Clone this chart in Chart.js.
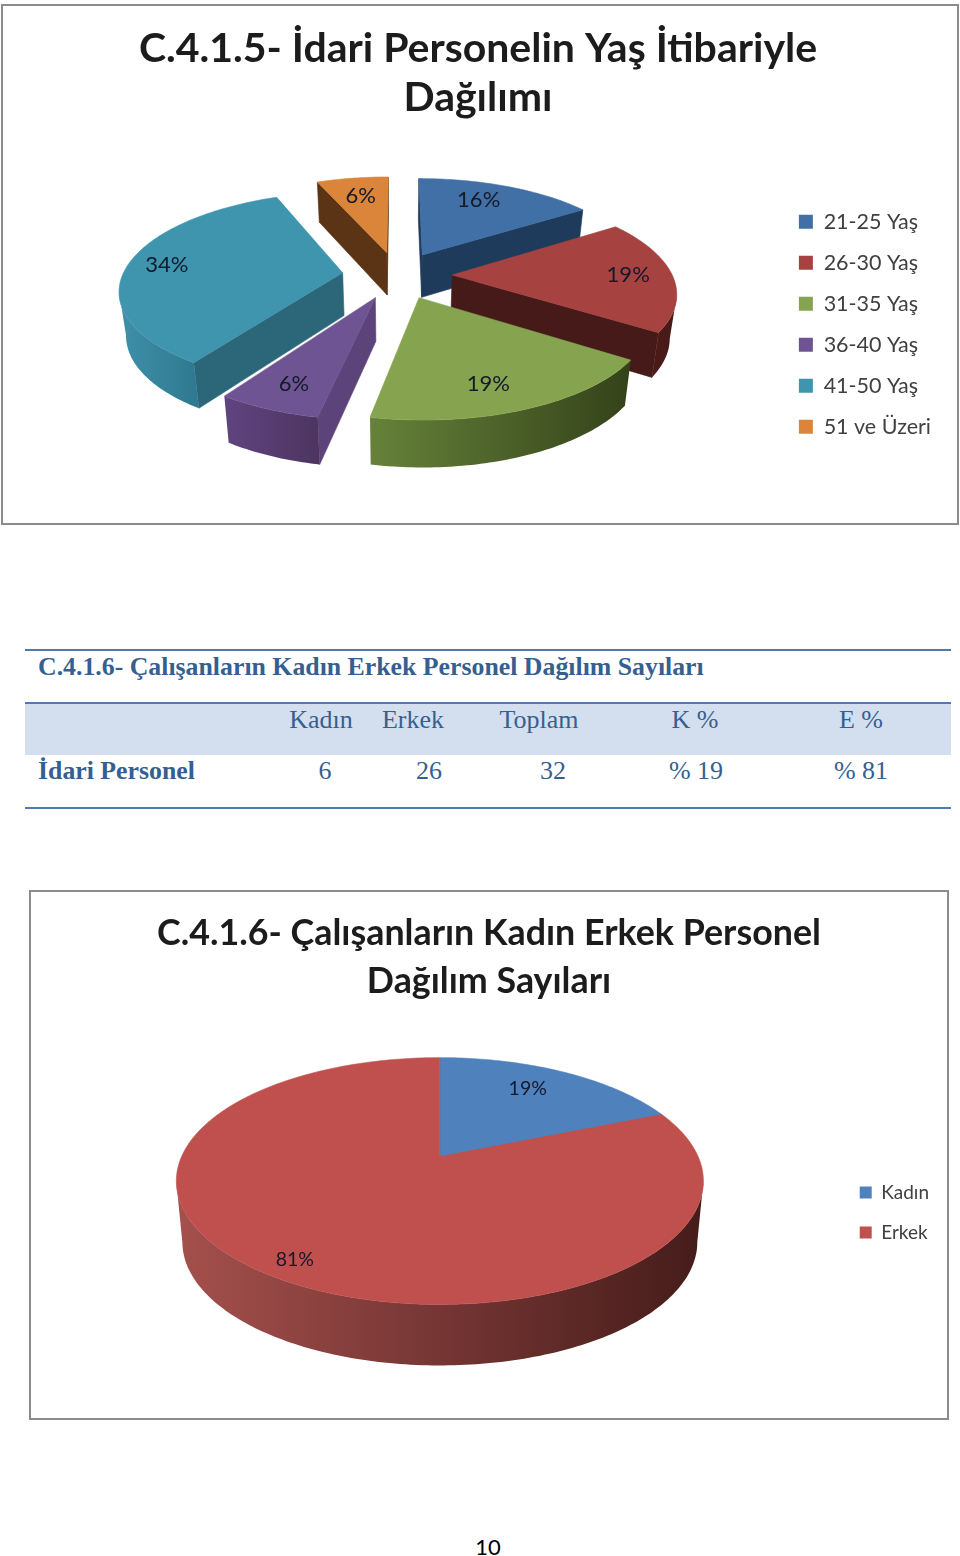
<!DOCTYPE html>
<html>
<head>
<meta charset="utf-8">
<title>C.4.1.5 - C.4.1.6</title>
<script src="https://cdn.jsdelivr.net/npm/chart.js@4"></script>
<style>
    html, body { margin: 0; padding: 0; background: #fff; width: 960px; height: 1556px; overflow: hidden; }
    .box { position: absolute; box-sizing: border-box; border: 2px solid #8c8c8c; background: #fff; }
    .box canvas { display: block; }
    .rule { position: absolute; left: 25px; width: 926px; height: 2px; background: #4f7cac; }
    .band { position: absolute; left: 25px; width: 926px; top: 704px; height: 51px; background: #d3dfee; }
    .cell { position: absolute; font-family: "Liberation Serif", serif; font-size: 26px; color: #365f91; white-space: nowrap; transform: translate(-50%, -50%); }
    .bold { font-weight: bold; font-size: 25.8px; transform: translate(0, -50%); }
    #pageNo { position: absolute; left: 488px; top: 1546px; transform: translate(-50%, -50%); font-family: Lato, sans-serif; font-size: 22px; color: #000; }
</style>
</head>
<body>
<div class="box" style="left:1px;top:4px;width:958px;height:521px"><canvas id="ageChart" width="954" height="517"></canvas></div>

<div class="rule" style="top:649px"></div>
<div class="band"></div>
<div class="rule" style="top:702px"></div>
<div class="rule" style="top:807px"></div>
<div id="tableText"></div>

<div class="box" style="left:29px;top:890px;width:920px;height:530px"><canvas id="genderChart" width="916" height="526"></canvas></div>
<div id="pageNo">10</div>

<script>
// chart 1 - age distribution
const ageTitle = ['C.4.1.5- İdari Personelin Yaş İtibariyle', 'Dağılımı'];
const ageLabels = ['21-25 Yaş', '26-30 Yaş', '31-35 Yaş', '36-40 Yaş', '41-50 Yaş', '51 ve Üzeri'];
const ageCounts = [5, 6, 6, 2, 11, 2];
const ageColors = ['#4070a5', '#a64340', '#86a44f', '#6e5492', '#3f94ae', '#da8539'];
const ageSideColors = ['#1f3b5c', '#451a18', '#36451c', '#5c4379', '#2c6679', '#5a3414'];
const ageWallLeft = ['#1f3b5c', '#4a1a18', '#66823a', '#5f4480', '#3f90aa', '#5a3414'];
const ageWallRight = ['#1f3b5c', '#451a18', '#344219', '#4d3560', '#2f7a90', '#5a3414'];

// chart 2 - women / men
const genderTitle = ['C.4.1.6- Çalışanların Kadın Erkek Personel', 'Dağılım Sayıları'];
const genderLabels = ['Kadın', 'Erkek'];
const genderCounts = [6, 26];
const genderColors = ['#4f81bd', '#c0504d'];
const genderSideColors = ['#2c4a6e', '#4a1e1c'];
const genderWallLeft = ['#2c4a6e', '#a5504d'];
const genderWallRight = ['#2c4a6e', '#451c1a'];

// table
const tableCaption = 'C.4.1.6- Çalışanların Kadın Erkek Personel Dağılım Sayıları';
const tableHeaders = ['Kadın', 'Erkek', 'Toplam', 'K %', 'E %'];
const tableRowName = 'İdari Personel';
const tableRow = ['6', '26', '32', '% 19', '% 81'];
const headerCenters = [321, 413, 539, 695, 861];
const rowCenters = [325, 429, 553, 696, 861];

function addCell(text, x, y, bold) {
    const el = document.createElement('div');
    el.className = bold ? 'cell bold' : 'cell';
    el.textContent = text;
    el.style.left = x + 'px';
    el.style.top = y + 'px';
    document.getElementById('tableText').appendChild(el);
}
addCell(tableCaption, 38, 667, true);
addCell(tableRowName, 38, 771, true);
tableHeaders.forEach((h, i) => addCell(h, headerCenters[i], 720));
tableRow.forEach((v, i) => addCell(v, rowCenters[i], 771));

// The library lays out the arcs (angles, radius, offset); this plugin only
// projects them onto a tilted disc with some perspective, like the Excel 3D pie.
const pie3d = {
    id: 'pie3d',
    beforeDatasetDraw(chart, args, opts) {
        const ctx = chart.ctx;
        const arcs = chart.getDatasetMeta(0).data;
        const total = chart.data.datasets[0].data.reduce((a, b) => a + b, 0);

        function makeProjection(arc) {
            const rx = arc.outerRadius;
            const ry = rx * opts.tilt;
            const cx = arc.x + opts.slide;
            const cy = arc.y + opts.lift;
            return {
                top(u, v) {
                    const w = 1 - opts.persp * v;
                    return [cx + rx * u / w, cy + ry * v / w];
                },
                bottom(u, v) {
                    const w = 1 - opts.persp * v;
                    return [cx + opts.bottomX * rx * u / w, cy + opts.drop + opts.bottomY * ry * v / w];
                }
            };
        }

        function poly(points) {
            ctx.beginPath();
            points.forEach((p, i) => (i ? ctx.lineTo(p[0], p[1]) : ctx.moveTo(p[0], p[1])));
            ctx.closePath();
        }

        const slices = arcs.map((arc, i) => {
            const mid = (arc.startAngle + arc.endAngle) / 2;
            const e = (arc.options.offset || 0) / arc.outerRadius;
            return { arc, i, mid, ox: e * Math.cos(mid), oy: e * Math.sin(mid) };
        });

        // back to front
        slices.sort((a, b) => Math.sin(a.mid) - Math.sin(b.mid));

        slices.forEach(s => {
            const arc = s.arc;
            const proj = makeProjection(arc);
            const outline = [[s.ox, s.oy]];
            const n = Math.max(2, Math.ceil((arc.endAngle - arc.startAngle) * 180 / Math.PI));
            for (let k = 0; k <= n; k++) {
                const a = arc.startAngle + (arc.endAngle - arc.startAngle) * k / n;
                outline.push([s.ox + Math.cos(a), s.oy + Math.sin(a)]);
            }
            const tops = outline.map(p => proj.top(p[0], p[1]));
            const bottoms = outline.map(p => proj.bottom(p[0], p[1]));

            // radial walls, only those facing the viewer
            ctx.fillStyle = opts.sideColors[s.i];
            ctx.strokeStyle = opts.sideColors[s.i];
            ctx.lineWidth = 0.6;
            [[0, 1], [outline.length - 1, 0]].forEach(e => {
                if (tops[e[1]][0] - tops[e[0]][0] < 0) {
                    poly([tops[e[0]], tops[e[1]], bottoms[e[1]], bottoms[e[0]]]);
                    ctx.fill();
                    ctx.stroke();
                }
            });

            // curved outer wall
            const upper = [];
            const lower = [];
            for (let k = 1; k < outline.length - 1; k++) {
                if (tops[k + 1][0] - tops[k][0] < 0) {
                    if (!upper.length) {
                        upper.push(tops[k]);
                        lower.push(bottoms[k]);
                    }
                    upper.push(tops[k + 1]);
                    lower.push(bottoms[k + 1]);
                }
            }
            if (upper.length) {
                const xs = upper.map(p => p[0]);
                const grad = ctx.createLinearGradient(Math.min(...xs), 0, Math.max(...xs), 0);
                grad.addColorStop(0, opts.wallLeft[s.i]);
                grad.addColorStop(1, opts.wallRight[s.i]);
                ctx.fillStyle = grad;
                poly(upper.concat(lower.reverse()));
                ctx.fill();
            }

            // top face
            ctx.fillStyle = arc.options.backgroundColor;
            ctx.strokeStyle = arc.options.backgroundColor;
            poly(tops);
            ctx.fill();
            ctx.stroke();
        });

        // percent labels
        ctx.font = opts.labelFont;
        ctx.fillStyle = '#14192b';
        ctx.textAlign = 'center';
        ctx.textBaseline = 'middle';
        slices.forEach(s => {
            const f = opts.labelRadius[s.i];
            const a = s.mid + opts.labelTurn[s.i] * Math.PI / 180;
            const p = makeProjection(s.arc).top(s.ox + f * Math.cos(a), s.oy + f * Math.sin(a));
            const value = chart.data.datasets[0].data[s.i];
            ctx.fillText(Math.round(value / total * 100) + '%', p[0], p[1]);
        });
        return false;
    }
};

function makePie(id, title, labels, counts, colors, offsets, titleCfg, legendCfg, layoutPadding, shape) {
    return new Chart(id, {
        type: 'pie',
        data: {
            labels: labels,
            datasets: [{
                data: counts,
                backgroundColor: colors,
                borderWidth: 0,
                offset: offsets,
                radius: shape.radius
            }]
        },
        options: {
            responsive: false,
            animation: false,
            radius: shape.radius,
            layout: { padding: layoutPadding },
            plugins: {
                title: {
                    display: true,
                    text: title,
                    color: '#1c1c1c',
                    font: { family: 'Lato', size: titleCfg.size, weight: 'bold', lineHeight: titleCfg.line },
                    padding: { top: titleCfg.top, bottom: titleCfg.bottom }
                },
                legend: {
                    position: 'right',
                    fullSize: false,
                    labels: {
                        color: '#404040',
                        boxWidth: legendCfg.box,
                        boxHeight: legendCfg.box,
                        font: { family: 'Lato', size: legendCfg.size },
                        padding: legendCfg.gap
                    }
                },
                tooltip: { enabled: false },
                pie3d: shape
            }
        },
        plugins: [pie3d]
    });
}

makePie('ageChart', ageTitle, ageLabels, ageCounts, ageColors, ageCounts.map(() => 55),
    { size: 41, line: 1.2, top: 18, bottom: 3 },
    { box: 14, size: 21.5, gap: 19.5 }, { left: 12, right: 16, top: 0, bottom: 0 },
    {
        radius: 220, tilt: 0.4296, persp: 0.161, lift: -49.2, slide: 0, drop: 43, bottomX: 0.975, bottomY: 1.03,
        labelFont: '22px Lato', labelRadius: [0.75, 0.8, 0.78, 0.8, 0.82, 0.73], labelTurn: [-4, 0, 3.5, -0.5, 0, 0],
        sideColors: ageSideColors, wallLeft: ageWallLeft, wallRight: ageWallRight
    });

makePie('genderChart', genderTitle, genderLabels, genderCounts, genderColors, [0, 0],
    { size: 35.8, line: 1.33, top: 18, bottom: 2 },
    { box: 12, size: 19, gap: 21 }, { left: 8, right: 8, top: 0, bottom: 0 },
    {
        radius: 258.3, tilt: 0.459, persp: 0.198, lift: -56, slide: 1, drop: 61, bottomX: 0.977, bottomY: 1,
        labelFont: '19.5px Lato', labelRadius: [0.75, 0.885], labelTurn: [-3, -1],
        sideColors: genderSideColors, wallLeft: genderWallLeft, wallRight: genderWallRight
    });
</script>
</body>
</html>
